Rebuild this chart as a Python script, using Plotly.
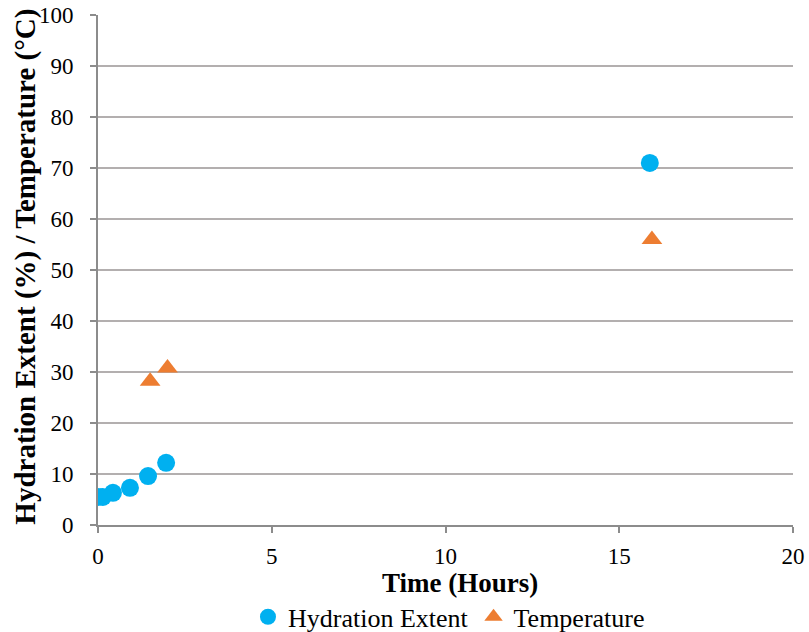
import plotly.graph_objects as go

# Hydration extent (%) over time
hyd_time = [0.0, 0.14, 0.43, 0.92, 1.44, 1.96, 15.88]
hyd_extent = [5.5, 5.5, 6.3, 7.3, 9.6, 12.2, 71.0]

# Temperature (°C) over time
temp_time = [1.5, 2.0, 15.94]
temp_value = [28.2, 30.8, 56.0]

x_ticks = [0, 5, 10, 15, 20]
y_ticks = [0, 10, 20, 30, 40, 50, 60, 70, 80, 90, 100]

x_title = "Time (Hours)"
y_title = "Hydration Extent (%) / Temperature (°C)"

font_family = "'Times New Roman', 'Liberation Serif', serif"

fig = go.Figure()
fig.add_trace(go.Scatter(
    x=hyd_time, y=hyd_extent, mode="markers", name="Hydration Extent",
    marker=dict(symbol="circle", size=18, color="#00B0F0"),
))
fig.add_trace(go.Scatter(
    x=temp_time, y=temp_value, mode="markers", name="Temperature",
    marker=dict(symbol="triangle-up", size=18, color="#ED7D31"),
))

# Axis titles placed as annotations for precise positioning
fig.add_annotation(
    text=f"<b>{x_title}</b>", xref="paper", yref="paper",
    x=0.521, y=-0.114, xanchor="center", yanchor="middle", showarrow=False,
    font=dict(family=font_family, size=27, color="black"),
)
fig.add_annotation(
    text=f"<b>{y_title}</b>", xref="paper", yref="paper",
    x=-0.104, y=0.506, xanchor="center", yanchor="middle", showarrow=False,
    textangle=-90,
    font=dict(family=font_family, size=29, color="black"),
)

fig.update_layout(
    width=809, height=632,
    margin=dict(l=98, r=16, t=15, b=107, autoexpand=False),
    paper_bgcolor="white", plot_bgcolor="white",
    font=dict(family=font_family, size=23, color="black"),
    showlegend=True,
    legend=dict(
        orientation="h", x=0.505, xanchor="center",
        yref="container", y=0.024, yanchor="middle",
        font=dict(family=font_family, size=26, color="black"),
        itemwidth=30, tracegroupgap=0,
    ),
    xaxis=dict(
        range=[0, 20], tickvals=x_ticks, ticktext=[str(v) for v in x_ticks],
        showgrid=False, zeroline=False, automargin=False,
        showline=True, linecolor="#8C8C8C", linewidth=2,
        ticks="outside", ticklen=6, tickcolor="#8C8C8C", tickwidth=2,
        ticklabelstandoff=3,
        tickfont=dict(family=font_family, size=23),
    ),
    yaxis=dict(
        range=[0, 100], tickvals=y_ticks, ticktext=[str(v) for v in y_ticks],
        showgrid=True, gridcolor="#B3AFAF", gridwidth=2, zeroline=False, automargin=False,
        showline=True, linecolor="#8C8C8C", linewidth=2,
        ticks="outside", ticklen=6, tickcolor="#8C8C8C", tickwidth=2,
        ticklabelstandoff=12,
        tickfont=dict(family=font_family, size=23),
    ),
)

fig.write_html("out.html")
